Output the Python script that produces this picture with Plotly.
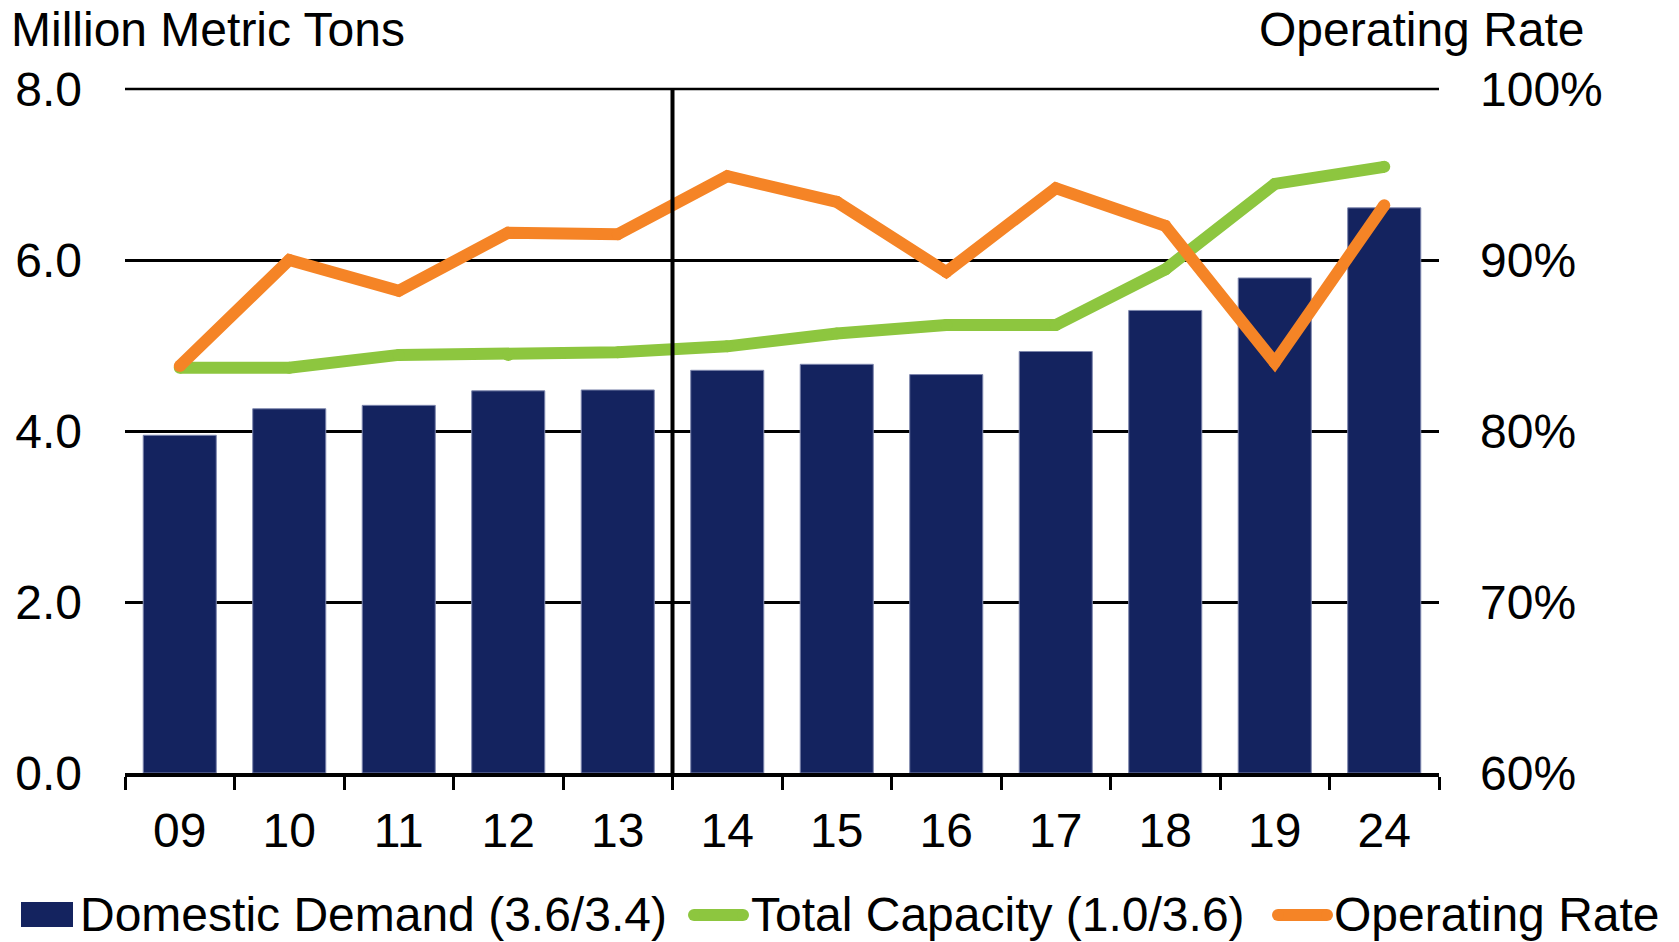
import plotly.graph_objects as go

# Chart data
years = ["09", "10", "11", "12", "13", "14", "15", "16", "17", "18", "19", "24"]
domestic_demand = [3.95, 4.26, 4.30, 4.47, 4.48, 4.71, 4.78, 4.66, 4.93, 5.41, 5.79, 6.61]
total_capacity = [4.74, 4.74, 4.89, 4.89, 4.92, 4.99, 5.14, 5.24, 5.24, 5.89, 6.89, 7.09]
operating_rate = [83.8, 90.0, 88.2, 91.6, 91.5, 94.9, 93.4, 89.3, 94.2, 92.0, 84.0, 93.2]

left_ticks = [0, 2, 4, 6, 8]
left_tick_text = ["0.0", "2.0", "4.0", "6.0", "8.0"]
right_ticks = [60, 70, 80, 90, 100]
right_tick_text = ["60%", "70%", "80%", "90%", "100%"]

legend_labels = ["Domestic Demand (3.6/3.4)", "Total Capacity (1.0/3.6)", "Operating Rate"]

NAVY = "#14235f"
GREEN = "#8dc63f"
ORANGE = "#f58426"
FONT = "Liberation Sans, Arial, sans-serif"
FS = 48
LW = 12
GRID_W = 2.5

W, H = 1679, 942
L, R, T, B = 125, 240, 89, 169
PW, PH = W - L - R, H - T - B


def px(x):
    return (x - L) / PW


def py(y):
    return (H - B - y) / PH


fig = go.Figure()

fig.add_trace(go.Bar(
    x=years, y=domestic_demand, name=legend_labels[0],
    marker=dict(color=NAVY, line=dict(color="#7d86ad", width=1)),
    yaxis="y",
))
fig.add_trace(go.Scatter(
    x=years, y=total_capacity, name=legend_labels[1], mode="lines+markers",
    line=dict(color=GREEN, width=LW),
    marker=dict(color=GREEN, size=LW, line=dict(width=0)),
    yaxis="y",
))
fig.add_trace(go.Scatter(
    x=years, y=operating_rate, name=legend_labels[2], mode="lines+markers",
    line=dict(color=ORANGE, width=LW),
    marker=dict(color=ORANGE, size=LW, line=dict(width=0)),
    yaxis="y2",
))

shapes = [
    # top gridline at the edge of the value range
    dict(type="line", xref="paper", yref="paper", x0=0, x1=1, y0=1, y1=1,
         line=dict(color="black", width=GRID_W), layer="below"),
    # divider between history and outlook
    dict(type="line", xref="x", yref="paper", x0=4.5, x1=4.5, y0=0, y1=1,
         line=dict(color="black", width=4), layer="above"),
    # legend swatches
    dict(type="rect", xref="paper", yref="paper",
         x0=px(21), x1=px(73), y0=py(927), y1=py(902),
         fillcolor=NAVY, line=dict(width=0)),
]
for (x0, x1, col) in [(694, 743, GREEN), (1278, 1327, ORANGE)]:
    yc = 915
    r = LW / 2
    shapes.append(dict(type="line", xref="paper", yref="paper",
                       x0=px(x0), x1=px(x1), y0=py(yc), y1=py(yc),
                       line=dict(color=col, width=LW)))
    for xc in (x0, x1):
        shapes.append(dict(type="circle", xref="paper", yref="paper",
                           x0=px(xc - r), x1=px(xc + r), y0=py(yc + r), y1=py(yc - r),
                           fillcolor=col, line=dict(width=0)))

annotations = [
    dict(text="Million Metric Tons", xref="paper", yref="paper", x=px(9), y=py(30),
         xanchor="left", yanchor="middle", showarrow=False,
         font=dict(family=FONT, size=FS, color="black")),
    dict(text="Operating Rate", xref="paper", yref="paper", x=px(1587), y=py(30),
         xanchor="right", yanchor="middle", showarrow=False,
         font=dict(family=FONT, size=FS, color="black")),
]
legend_text_x = [78, 749, 1332]
for lbl, lx in zip(legend_labels, legend_text_x):
    annotations.append(dict(text=lbl, xref="paper", yref="paper", x=px(lx), y=py(914),
                            xanchor="left", yanchor="middle", showarrow=False,
                            font=dict(family=FONT, size=FS, color="black")))

fig.update_layout(
    width=W, height=H,
    margin=dict(l=L, r=R, t=T, b=B),
    paper_bgcolor="white", plot_bgcolor="white",
    showlegend=False,
    bargap=0.333,
    font=dict(family=FONT, size=FS, color="black"),
    xaxis=dict(
        type="category", range=[-0.5, 11.5], showgrid=False, zeroline=False,
        showline=True, linecolor="black", linewidth=4,
        ticks="outside", tickson="boundaries", ticklen=13, tickwidth=3, tickcolor="black",
        ticklabelstandoff=12,
        tickfont=dict(family=FONT, size=FS, color="black"),
    ),
    yaxis=dict(
        range=[0, 8], tickvals=left_ticks, ticktext=left_tick_text,
        showgrid=True, gridcolor="black", gridwidth=GRID_W, zeroline=False,
        showline=False, ticks="", ticklabelstandoff=42,
        tickfont=dict(family=FONT, size=FS, color="black"),
    ),
    yaxis2=dict(
        range=[60, 100], tickvals=right_ticks, ticktext=right_tick_text,
        overlaying="y", side="right", showgrid=False, zeroline=False,
        showline=False, ticks="", ticklabelstandoff=40,
        tickfont=dict(family=FONT, size=FS, color="black"),
    ),
    shapes=shapes,
    annotations=annotations,
)

fig.write_html("out.html")
